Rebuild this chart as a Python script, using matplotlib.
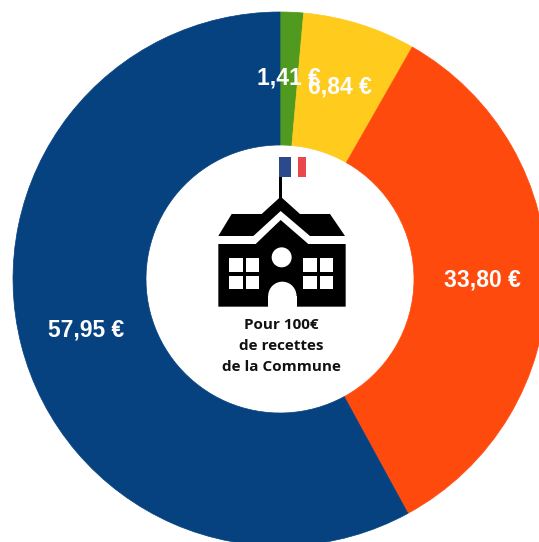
import matplotlib
matplotlib.use("Agg")
import matplotlib.pyplot as plt
from matplotlib.patches import Polygon, Circle, Ellipse

# Parts of 100 euros, clockwise from the top
valeurs = [1.41, 6.84, 33.80, 57.95]
etiquettes = ["1,41 €", "6,84 €", "33,80 €", "57,95 €"]
couleurs = ["#4f9a1f", "#ffcb1d", "#ff4a0e", "#05427f"]
titre = ["Pour 100€", "de recettes", "de la Commune"]

W, H = 539, 542


def py(y):
    return H - y


def z(x, y):
    # coordinates read on the 3x zoom of the building
    return (190 + x / 3, H - (140 + y / 3))


fig = plt.figure(figsize=(W / 100, H / 100), dpi=100)
ax = fig.add_axes([0, 0, 1, 1])

wedges, _ = ax.pie(valeurs, colors=couleurs, startangle=90, counterclock=False,
                   center=(280, py(279)), radius=267,
                   wedgeprops={"width": 133, "linewidth": 0.5})
for w, c in zip(wedges, couleurs):
    w.set_edgecolor(c)
ax.set_xlim(0, W)
ax.set_ylim(0, H)
ax.axis("off")

# Labels, 6,84 goes under 1,41 as in the original
pos_labels = {1: (340, 87), 0: (289, 78), 2: (482, 280), 3: (86, 330)}
for i, (x, y) in pos_labels.items():
    ax.text(x, py(y), etiquettes[i], color="#fdfdfd", fontsize=16.5,
            fontweight="bold", family="Liberation Sans",
            ha="center", va="center", zorder=5)

# Flag and pole
ax.add_patch(Polygon([z(268, 52), z(302, 52), z(302, 112), z(268, 112)],
                     color="#2b4a8c", lw=0, zorder=3))
ax.add_patch(Polygon([z(325, 52), z(348, 52), z(348, 112), z(325, 112)],
                     color="#e8474c", lw=0, zorder=3))
ax.add_patch(Polygon([z(268, 112), z(277, 112), z(277, 185), z(268, 185)],
                     color="black", lw=0, zorder=3))

# Roof
toit = [(85, 288), (125, 222), (215, 222), (272, 170), (330, 222), (420, 222),
        (465, 288), (360, 288), (272, 213), (190, 288)]
ax.add_patch(Polygon([z(*p) for p in toit], color="black", lw=0, zorder=3))

# Body of the building
corps = [(85, 312), (197, 312), (272, 240), (355, 312), (467, 312),
         (467, 500), (85, 500)]
ax.add_patch(Polygon([z(*p) for p in corps], color="black", lw=0, zorder=3))

# Windows
for x0 in [118, 168, 340, 390]:
    for y0 in [355, 407]:
        ax.add_patch(Polygon([z(x0, y0), z(x0 + 40, y0), z(x0 + 40, y0 + 40), z(x0, y0 + 40)],
                             color="white", lw=0, zorder=4))

# Round window and door
ax.add_patch(Circle(z(275, 352), 10, color="white", lw=0, zorder=4))
ax.add_patch(Ellipse(z(277, 468), 85 / 3, 86 / 3, color="white", lw=0, zorder=4))
ax.add_patch(Polygon([z(235, 468), z(320, 468), z(320, 500), z(235, 500)],
                     color="white", lw=0, zorder=4))

# Centre text
for ligne, y in zip(titre, [325, 346, 367]):
    ax.text(281, py(y), ligne, color="#111111", fontsize=11, fontweight="bold",
            family="Open Sans", ha="center", va="center", zorder=5)

fig.savefig("out.png", dpi=100)
